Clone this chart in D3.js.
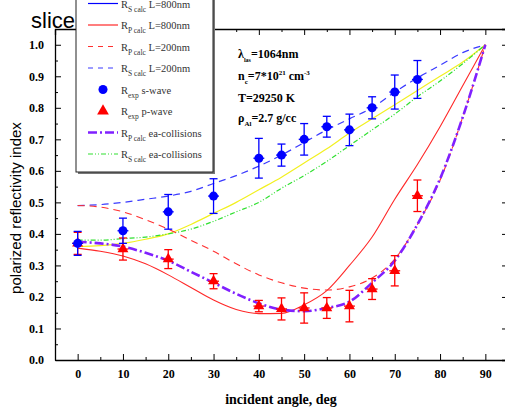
<!DOCTYPE html>
<meta charset="utf-8">
<style>
    body { margin: 0; background: #fff; }
    svg { display: block; }
    .tick text { font-family: "Liberation Serif", "Times New Roman", serif; font-weight: bold; font-size: 12px; fill: #000; }
    .axis path, .axis line { stroke: #000; }
    .axis path { stroke-width: 1.3px; }
    .curve { fill: none; }
</style>
<svg width="505" height="408"></svg>
<script src="https://cdn.jsdelivr.net/npm/d3@7/dist/d3.min.js"></script>
<script>

    // angles for the calculated curves
    var angles = [0, 5, 10, 15, 20, 25, 30, 35, 40, 45, 50, 55, 60, 65, 70, 75, 80, 85, 90];

    // calculated curves
    var rpCalc800  = [0.355, 0.345, 0.33, 0.305, 0.27, 0.23, 0.19, 0.16, 0.147, 0.148, 0.175, 0.22, 0.30, 0.39, 0.51, 0.62, 0.74, 0.87, 1.0];
    var rpCalc200  = [0.49, 0.485, 0.47, 0.445, 0.415, 0.38, 0.345, 0.305, 0.27, 0.245, 0.228, 0.222, 0.232, 0.26, 0.32, 0.43, 0.57, 0.77, 1.0];
    var rsCalc200  = [0.49, 0.493, 0.50, 0.51, 0.52, 0.535, 0.56, 0.585, 0.615, 0.65, 0.69, 0.73, 0.765, 0.80, 0.85, 0.895, 0.935, 0.975, 1.0];
    var rpCalcEa   = [0.375, 0.37, 0.36, 0.34, 0.315, 0.28, 0.245, 0.21, 0.18, 0.16, 0.155, 0.165, 0.185, 0.245, 0.315, 0.43, 0.575, 0.77, 1.0];
    var rsCalcEa   = [0.38, 0.38, 0.385, 0.39, 0.40, 0.415, 0.44, 0.47, 0.50, 0.545, 0.585, 0.63, 0.68, 0.73, 0.78, 0.835, 0.885, 0.94, 1.0];
    var yellowCurve = [0.36, 0.363, 0.37, 0.383, 0.40, 0.43, 0.465, 0.50, 0.54, 0.58, 0.625, 0.67, 0.72, 0.765, 0.81, 0.855, 0.90, 0.945, 1.0];

    // experimental points
    var sAngles = [0, 10, 20, 30, 40, 45, 50, 55, 60, 65, 70, 75];
    var sValues = [0.37, 0.41, 0.47, 0.52, 0.64, 0.65, 0.70, 0.74, 0.73, 0.80, 0.85, 0.89];
    var sErrors = [0.038, 0.04, 0.055, 0.055, 0.063, 0.035, 0.05, 0.033, 0.05, 0.035, 0.054, 0.06];

    var pAngles = [0, 10, 20, 30, 40, 45, 50, 55, 60, 65, 70, 75];
    var pValues = [0.37, 0.352, 0.32, 0.25, 0.171, 0.162, 0.165, 0.165, 0.171, 0.225, 0.283, 0.521];
    var pErrors = [0.035, 0.035, 0.03, 0.024, 0.018, 0.035, 0.048, 0.033, 0.05, 0.033, 0.048, 0.05];

    var xTicks = [0, 10, 20, 30, 40, 50, 60, 70, 80, 90];
    var yTicks = [0, 0.1, 0.2, 0.3, 0.4, 0.5, 0.6, 0.7, 0.8, 0.9, 1.0];

    var svg = d3.select("svg");

    var x = d3.scaleLinear().domain([-5, 95]).range([55, 508]),
        y = d3.scaleLinear().domain([0, 1.05]).range([360, 29]);

    var xMinor = d3.range(-5, 96, 5).filter(function(v) { return v % 10 !== 0; }),
        yMinor = d3.range(0.05, 1.05, 0.1);

    // title text partly hidden behind the legend
    svg.append("text")
        .attr("x", 31)
        .attr("y", 28)
        .style("font", "22px 'Liberation Sans', Arial, sans-serif")
        .text("slice");

    // axes, ticks pointing inward
    svg.append("g")
        .attr("class", "axis")
        .attr("transform", "translate(0," + y(0) + ")")
        .call(d3.axisBottom(x).tickValues(xTicks).tickSizeInner(-6).tickSizeOuter(0).tickPadding(9)
            .tickFormat(d3.format("d")));
    svg.append("g")
        .attr("class", "axis")
        .attr("transform", "translate(0," + y(0) + ")")
        .call(d3.axisBottom(x).tickValues(xMinor).tickSize(-3).tickFormat(""))
        .select(".domain").remove();

    svg.append("g")
        .attr("class", "axis")
        .attr("transform", "translate(" + x(-5) + ",0)")
        .call(d3.axisLeft(y).tickValues(yTicks).tickSizeInner(-6).tickSizeOuter(0).tickPadding(11)
            .tickFormat(d3.format(".1f")));
    svg.append("g")
        .attr("class", "axis")
        .attr("transform", "translate(" + x(-5) + ",0)")
        .call(d3.axisLeft(y).tickValues(yMinor).tickSize(-3).tickFormat(""))
        .select(".domain").remove();

    svg.append("g")
        .attr("class", "axis")
        .attr("transform", "translate(0," + y(1.05) + ")")
        .call(d3.axisTop(x).tickValues(xTicks).tickSize(-6).tickFormat(""));
    svg.append("g")
        .attr("class", "axis")
        .attr("transform", "translate(0," + y(1.05) + ")")
        .call(d3.axisTop(x).tickValues(xMinor).tickSize(-3).tickFormat(""))
        .select(".domain").remove();

    svg.append("g")
        .attr("class", "axis")
        .attr("transform", "translate(" + x(95) + ",0)")
        .call(d3.axisRight(y).tickValues(yTicks).tickSize(-6).tickFormat(""));
    svg.append("g")
        .attr("class", "axis")
        .attr("transform", "translate(" + x(95) + ",0)")
        .call(d3.axisRight(y).tickValues(yMinor).tickSize(-3).tickFormat(""))
        .select(".domain").remove();

    // axis titles
    svg.append("text")
        .attr("transform", "translate(21," + 208 + ") rotate(-90)")
        .style("text-anchor", "middle")
        .style("font", "15px 'Liberation Sans', Arial, sans-serif")
        .text("polarized reflectivity index");

    svg.append("text")
        .attr("x", 281)
        .attr("y", 404)
        .style("text-anchor", "middle")
        .style("font", "bold 14px 'Liberation Serif', 'Times New Roman', serif")
        .text("incident angle, deg");

    // calculated curves
    var line = d3.line()
        .curve(d3.curveMonotoneX)
        .x(function(d) { return x(d[0]); })
        .y(function(d) { return y(d[1]); });

    var curves = [
        {values: yellowCurve, color: "#f2f020", width: 1.2, dash: null},
        {values: rsCalcEa, color: "#30e030", width: 1.2, dash: "5,2,1,2,1,2"},
        {values: rsCalc200, color: "#3a3aff", width: 1.2, dash: "7,5"},
        {values: rpCalc200, color: "#ff3030", width: 1.1, dash: "7,5"},
        {values: rpCalc800, color: "#ff2828", width: 1.1, dash: null},
        {values: rpCalcEa, color: "#8020ff", width: 2.6, dash: "9,3,2,3"}
    ];

    svg.selectAll(".curve")
        .data(curves)
        .enter().append("path")
        .attr("class", "curve")
        .attr("d", function(c) {
            return line(angles.map(function(a, i) { return [a, c.values[i]]; }));
        })
        .style("stroke", function(c) { return c.color; })
        .style("stroke-width", function(c) { return c.width; })
        .style("stroke-dasharray", function(c) { return c.dash; });

    // experimental points with error bars
    function drawPoints(angs, vals, errs, color, shape) {
        var pts = angs.map(function(a, i) { return {a: a, v: vals[i], e: errs[i]}; });
        var g = svg.append("g").style("stroke", color).style("stroke-width", 1.3);
        var pt = g.selectAll("g").data(pts).enter().append("g");
        pt.append("line")
            .attr("x1", function(d) { return x(d.a); }).attr("x2", function(d) { return x(d.a); })
            .attr("y1", function(d) { return y(d.v - d.e); }).attr("y2", function(d) { return y(d.v + d.e); });
        pt.append("line")
            .attr("x1", function(d) { return x(d.a) - 4; }).attr("x2", function(d) { return x(d.a) + 4; })
            .attr("y1", function(d) { return y(d.v - d.e); }).attr("y2", function(d) { return y(d.v - d.e); });
        pt.append("line")
            .attr("x1", function(d) { return x(d.a) - 4; }).attr("x2", function(d) { return x(d.a) + 4; })
            .attr("y1", function(d) { return y(d.v + d.e); }).attr("y2", function(d) { return y(d.v + d.e); });
        pt.append("line")
            .attr("x1", function(d) { return x(d.a - 1.2); }).attr("x2", function(d) { return x(d.a + 1.2); })
            .attr("y1", function(d) { return y(d.v); }).attr("y2", function(d) { return y(d.v); });
        pt.append("path")
            .attr("transform", function(d) { return "translate(" + x(d.a) + "," + y(d.v) + ")"; })
            .attr("d", d3.symbol(shape, shape === d3.symbolCircle ? 64 : 52))
            .style("fill", color)
            .style("stroke", "none");
    }

    drawPoints(pAngles, pValues, pErrors, "#ff0000", d3.symbolTriangle);
    drawPoints(sAngles, sValues, sErrors, "#0000ff", d3.symbolCircle);

    // parameters text
    var info = svg.append("g")
        .style("font", "bold 12px 'Liberation Serif', 'Times New Roman', serif")
        .style("fill", "#000");

    var t1 = info.append("text").attr("x", 238).attr("y", 58);
    t1.append("tspan").text("\u03bb");
    t1.append("tspan").attr("dy", 4).style("font-size", "6px").text("las");
    t1.append("tspan").attr("dy", -4).text("=1064nm");

    var t2 = info.append("text").attr("x", 238).attr("y", 80);
    t2.append("tspan").text("n");
    t2.append("tspan").attr("dy", 4).style("font-size", "7px").text("c");
    t2.append("tspan").attr("dy", -4).text("=7*10");
    t2.append("tspan").attr("dy", -5).style("font-size", "7px").text("21");
    t2.append("tspan").attr("dy", 5).text(" cm");
    t2.append("tspan").attr("dy", -5).style("font-size", "7px").text("-3");

    info.append("text").attr("x", 238).attr("y", 102).text("T=29250 K");

    var t4 = info.append("text").attr("x", 238).attr("y", 122);
    t4.append("tspan").text("\u03c1");
    t4.append("tspan").attr("dy", 4).style("font-size", "7px").text("Al");
    t4.append("tspan").attr("dy", -4).text("=2.7 g/cc");

    // legend
    var legendRows = [
        {sub: "S calc", label: "L=800nm", color: "#0000ff", dash: null, width: 1.2, mark: null},
        {sub: "P calc", label: "L=800nm", color: "#ff2828", dash: null, width: 1.2, mark: null},
        {sub: "P calc", label: "L=200nm", color: "#ff3030", dash: "5,5", width: 1.2, mark: null},
        {sub: "S calc", label: "L=200nm", color: "#3a3aff", dash: "5,5", width: 1.2, mark: null},
        {sub: "exp", label: "s-wave", color: "#0000ff", dash: null, width: 0, mark: d3.symbolCircle},
        {sub: "exp", label: "p-wave", color: "#ff0000", dash: null, width: 0, mark: d3.symbolTriangle},
        {sub: "P calc", label: "ea-collisions", color: "#8020ff", dash: "9,3,2,3", width: 2.4, mark: null},
        {sub: "S calc", label: "ea-collisions", color: "#30e030", dash: "5,2,1,2,1,2", width: 1.2, mark: null}
    ];

    var legend = svg.append("g");
    legend.append("rect")
        .attr("x", 78).attr("y", -20).attr("width", 137).attr("height", 194)
        .style("fill", "#777");
    legend.append("rect")
        .attr("x", 76).attr("y", -20).attr("width", 137).attr("height", 192)
        .style("fill", "#fff").style("stroke", "#222").style("stroke-width", 1);

    var row = legend.selectAll(".row")
        .data(legendRows)
        .enter().append("g")
        .attr("class", "row")
        .attr("transform", function(d, i) { return "translate(0," + (3.5 + i * 21.5) + ")"; });

    row.filter(function(d) { return !d.mark; })
        .append("line")
        .attr("x1", 88).attr("x2", 118)
        .style("stroke", function(d) { return d.color; })
        .style("stroke-width", function(d) { return d.width; })
        .style("stroke-dasharray", function(d) { return d.dash; });

    row.filter(function(d) { return d.mark; })
        .append("path")
        .attr("transform", "translate(103,0)")
        .attr("d", function(d) { return d3.symbol(d.mark, d.mark === d3.symbolCircle ? 64 : 60)(); })
        .style("fill", function(d) { return d.color; });

    var lt = row.append("text")
        .attr("x", 121).attr("y", 4)
        .style("font", "10.5px 'Liberation Serif', 'Times New Roman', serif")
        .style("fill", "#333");
    lt.append("tspan").text("R");
    lt.append("tspan").attr("dy", 4).style("font-size", "7.5px").text(function(d) { return d.sub; });
    lt.append("tspan").attr("dy", -4).text(function(d) { return " " + d.label; });

</script>
